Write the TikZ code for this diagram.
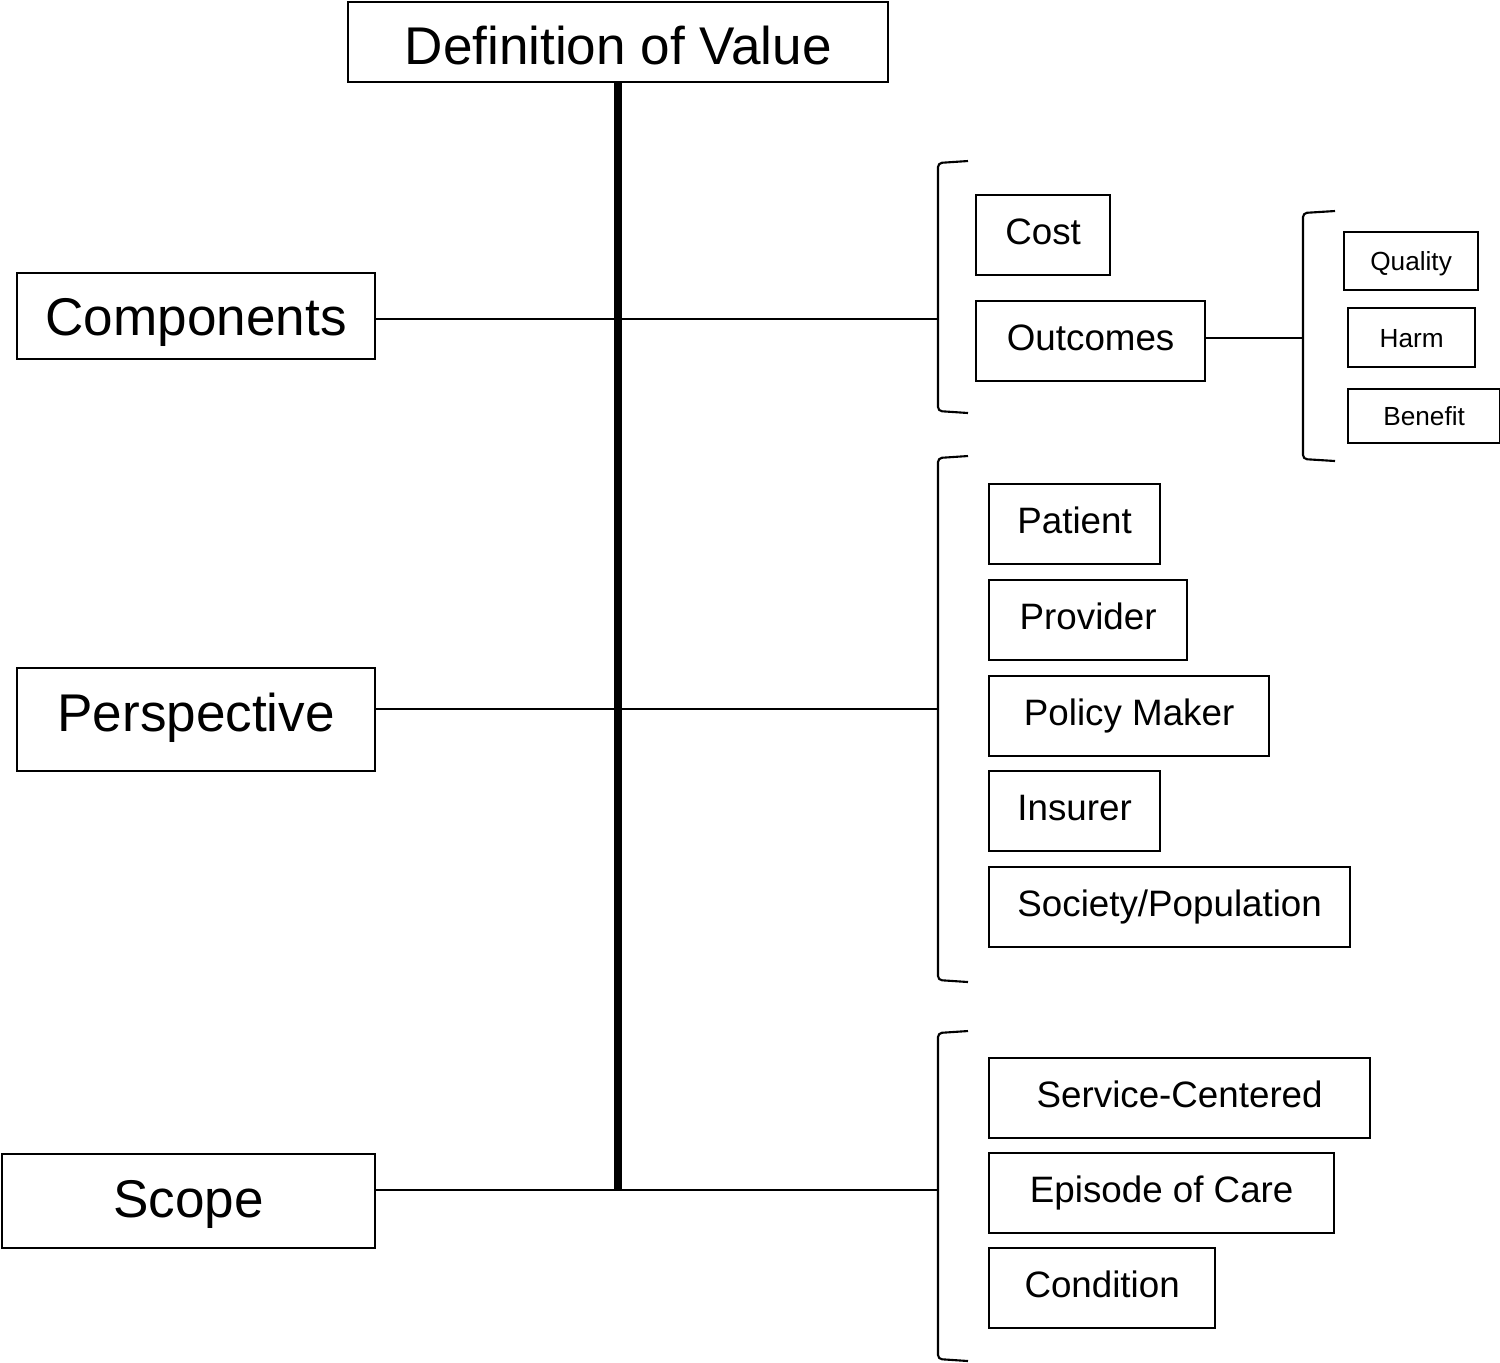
\documentclass[tikz,border=0pt]{standalone}
\usepackage{fontspec}
\setmainfont{Liberation Sans}

\begin{document}
\begin{tikzpicture}[x=0.01cm, y=-0.01cm,
        box/.style={draw, line width=0.6pt, inner sep=0pt, anchor=north west},
        bigbox/.style={box, font=\fontsize{15.1}{18}\selectfont, text height=10.8pt, text depth=0pt},
        midbox/.style={box, font=\fontsize{10.45}{12}\selectfont, text height=7.5pt, text depth=2.1pt, minimum height=0.80cm},
        smallbox/.style={box, font=\fontsize{7.45}{9}\selectfont, text height=5.35pt, text depth=0pt},
        link/.style={line width=0.6pt},
        bracket/.style={line width=0.6pt, rounded corners=0.04cm}]
        \useasboundingbox (0,0) rectangle (1500,1362);

        \node[bigbox, minimum width=5.40cm, minimum height=0.80cm, text height=12.5pt] (def) at (347,1) {Definition of Value};
        \node[bigbox, minimum width=3.58cm, minimum height=0.86cm] (comp) at (16,272) {Components};
        \node[bigbox, minimum width=3.58cm, minimum height=1.03cm, text depth=4pt] (persp) at (16,667) {Perspective};
        \node[bigbox, minimum width=3.73cm, minimum height=0.94cm, text depth=1.7pt] (scope) at (1,1153) {Scope};

        \node[midbox, minimum width=1.34cm] (cost) at (975,194) {Cost};
        \node[midbox, minimum width=2.29cm] (outc) at (975,300) {Outcomes};
        \node[smallbox, minimum width=1.34cm, minimum height=0.58cm] (quality) at (1343,231) {Quality};
        \node[smallbox, minimum width=1.27cm, minimum height=0.59cm] (harm) at (1347,307) {Harm};
        \node[smallbox, minimum width=1.52cm, minimum height=0.54cm] (benefit) at (1347,388) {Benefit};

        \node[midbox, minimum width=1.71cm] (patient) at (988,483) {Patient};
        \node[midbox, minimum width=1.98cm] (provider) at (988,579) {Provider};
        \node[midbox, minimum width=2.80cm] (policy) at (988,675) {Policy Maker};
        \node[midbox, minimum width=1.71cm] (insurer) at (988,770) {Insurer};
        \node[midbox, minimum width=3.61cm] (society) at (988,866) {Society/Population};

        \node[midbox, minimum width=3.81cm] (service) at (988,1057) {Service-Centered};
        \node[midbox, minimum width=3.45cm] (episode) at (988,1152) {Episode of Care};
        \node[midbox, minimum width=2.26cm] (condition) at (988,1247) {Condition};

        \coordinate (spine) at (618,1190);
        \coordinate (bComp) at (938,319);
        \coordinate (bPersp) at (938,709);
        \coordinate (bScope) at (938,1190);
        \coordinate (bOutc) at (1303,338);

        \draw [line width=2pt] (def.south -| spine) -- (spine);
        \draw [link] (comp.east |- bComp) -- (bComp);
        \draw [link] (persp.east |- bPersp) -- (bPersp);
        \draw [link] (scope.east |- bScope) -- (bScope);
        \draw [link] (outc.east |- bOutc) -- (bOutc);

        \draw [bracket] (968,161) -- (938,163) -- (938,411) -- (968,413);
        \draw [bracket] (1335,211) -- (1303,213) -- (1303,459) -- (1335,461);
        \draw [bracket] (968,456) -- (938,458) -- (938,980) -- (968,982);
        \draw [bracket] (968,1031) -- (938,1033) -- (938,1359) -- (968,1361);
    \end{tikzpicture}
\end{document}
